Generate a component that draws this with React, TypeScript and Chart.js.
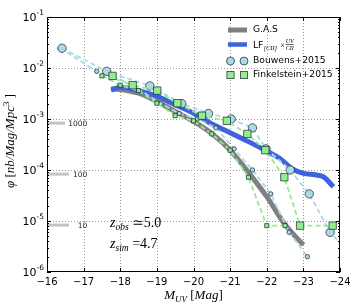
import React, { useEffect, useRef } from 'react';
import { Chart, registerables } from 'chart.js';

Chart.register(...registerables);

// ---------------- data ----------------
const xTicks = [-16, -17, -18, -19, -20, -21, -22, -23, -24];
const yTickExps = [-1, -2, -3, -4, -5, -6];

// G.A.S model (grey)
const gasM = [-17.75, -18.0, -18.5, -19.0, -19.5, -20.0, -20.5, -21.0, -21.5, -22.0, -22.5, -23.0];
const gasPhi = [0.0039, 0.0038, 0.0032, 0.0022, 0.0014, 0.0009, 0.00052, 0.000245, 0.00009, 0.00003, 0.0000085, 0.0000034];

// LF[CII] x UV/CII (blue)
const lfM = [-17.75, -18.0, -18.5, -19.0, -19.5, -20.0, -20.5, -21.0, -21.5, -22.0, -22.35, -22.7, -23.0, -23.35, -23.55, -23.82];
const lfPhi = [0.0037, 0.0042, 0.0036, 0.0028, 0.0019, 0.0013, 0.0008, 0.00054, 0.00036, 0.000235, 0.00017, 0.000105, 0.000086, 0.00008, 0.000073, 0.000047];

// Bouwens+2015 (small circles)
const bouwensM = [-16.36, -17.36, -18.36, -19.11, -19.61, -20.11, -20.61, -21.11, -21.61, -22.11, -22.61, -23.11];
const bouwensPhi = [0.0244, 0.0086, 0.00446, 0.002, 0.00128, 0.001, 0.00067, 0.00026, 0.0001, 0.000034, 0.000006, 0.000002];
// Bouwens+2015 (large circles)
const bouwensM2 = [-16.41, -17.63, -18.81, -19.68, -20.41, -21.03, -21.61, -21.98, -22.64, -23.16, -23.73, -24.35];
const bouwensPhi2 = [0.0244, 0.0086, 0.00446, 0.002, 0.00128, 0.001, 0.00067, 0.00026, 0.0001, 0.000034, 0.000006, 0.000002];

// Finkelstein+2015 (small squares)
const finkM = [-17.5, -18.0, -18.5, -19.0, -19.5, -20.0, -20.5, -21.0, -21.5, -22.0, -22.5];
const finkPhi = [0.007, 0.0046, 0.0036, 0.00204, 0.00116, 0.00092, 0.00051, 0.000245, 0.000072, 0.0000081, 0.0000081];
// Finkelstein+2015 (large squares)
const finkM2 = [-17.79, -18.34, -19.01, -19.56, -20.23, -20.91, -21.47, -21.96, -22.48, -22.91, -23.8];
const finkPhi2 = [0.007, 0.0046, 0.0036, 0.00204, 0.00116, 0.00092, 0.00051, 0.000245, 0.000072, 0.0000081, 0.0000081];

// number-count reference levels
const countLabels = ['1000', '100', '10'];
const countPhi = [0.00083, 0.000083, 0.0000083];
const countEndM = [-16.49, -16.6, -16.6];
const countLabelM = -17.1;

const annotLines = [
  { sub: 'obs', rel: ' \u2243', val: '5.0' },
  { sub: 'sim', rel: ' =', val: '4.7' },
];
const annotM = -17.72;
const annotPhi = [0.0000078, 0.0000029];

const legendLabels = ['G.A.S', 'LF', 'Bouwens+2015', 'Finkelstein+2015'];

// ---------------- styles ----------------
const GREY = '#808080';
const BLUE = '#3e63dd';
const LBLUE = '#add8e6';
const LGREEN = '#90ee90';
const EDGE = 'rgba(20,30,40,0.85)';
const SANS = '"DejaVu Sans", sans-serif';
const SERIF = '"Liberation Serif", "DejaVu Serif", serif';

const pts = (xs: number[], ys: number[]) => xs.map((x, i) => ({ x, y: ys[i] }));

type Part = { t: string; f: string; dy?: number };
function partsWidth(ctx: CanvasRenderingContext2D, parts: Part[]) {
  let w = 0;
  for (const p of parts) {
    ctx.font = p.f;
    w += ctx.measureText(p.t).width;
  }
  return w;
}
function drawParts(ctx: CanvasRenderingContext2D, parts: Part[], x: number, y: number) {
  let cx = x;
  for (const p of parts) {
    ctx.font = p.f;
    ctx.fillText(p.t, cx, y + (p.dy || 0));
    cx += ctx.measureText(p.t).width;
  }
  return cx;
}

const decor = {
  id: 'decor',
  beforeDatasetsDraw(chart: any) {
    const { ctx, chartArea: a, scales } = chart;
    const xs = scales.x;
    const ys = scales.y;
    ctx.save();
    ctx.strokeStyle = '#9a9a9a';
    ctx.lineWidth = 1;
    ctx.setLineDash([1, 2]);
    for (const t of xTicks) {
      const px = Math.round(xs.getPixelForValue(t)) + 0.5;
      if (px <= a.left + 1 || px >= a.right - 1) continue;
      ctx.beginPath();
      ctx.moveTo(px, a.top);
      ctx.lineTo(px, a.bottom);
      ctx.stroke();
    }
    for (const e of yTickExps) {
      const py = Math.round(ys.getPixelForValue(Math.pow(10, e))) + 0.5;
      if (py <= a.top + 1 || py >= a.bottom - 1) continue;
      ctx.beginPath();
      ctx.moveTo(a.left, py);
      ctx.lineTo(a.right, py);
      ctx.stroke();
    }
    ctx.restore();
  },
  afterDatasetsDraw(chart: any) {
    const { ctx, chartArea: a, scales } = chart;
    const xs = scales.x;
    const ys = scales.y;
    ctx.save();
    ctx.setLineDash([]);
    // frame
    ctx.strokeStyle = '#000';
    ctx.lineWidth = 1;
    ctx.strokeRect(a.left + 0.5, a.top + 0.5, a.right - a.left - 1, a.bottom - a.top - 1);
    // ticks
    ctx.beginPath();
    for (const t of xTicks) {
      const px = Math.round(xs.getPixelForValue(t)) + 0.5;
      ctx.moveTo(px, a.bottom);
      ctx.lineTo(px, a.bottom - 4);
      ctx.moveTo(px, a.top);
      ctx.lineTo(px, a.top + 4);
    }
    for (const e of yTickExps) {
      const py = Math.round(ys.getPixelForValue(Math.pow(10, e))) + 0.5;
      ctx.moveTo(a.left, py);
      ctx.lineTo(a.left + 4, py);
      ctx.moveTo(a.right, py);
      ctx.lineTo(a.right - 4, py);
      if (e > -6) continue;
    }
    for (let e = -6; e < -1; e++) {
      for (let k = 2; k <= 9; k++) {
        const py = Math.round(ys.getPixelForValue(k * Math.pow(10, e))) + 0.5;
        ctx.moveTo(a.left, py);
        ctx.lineTo(a.left + 2, py);
        ctx.moveTo(a.right, py);
        ctx.lineTo(a.right - 2, py);
      }
    }
    ctx.stroke();

    ctx.fillStyle = '#000';
    // x tick labels
    ctx.textAlign = 'center';
    ctx.textBaseline = 'middle';
    ctx.font = `10px ${SANS}`;
    for (const t of xTicks) {
      const px = xs.getPixelForValue(t);
      ctx.fillText('\u2212' + Math.abs(t), px, a.bottom + 10);
    }
    // y tick labels
    ctx.textAlign = 'left';
    ctx.textBaseline = 'alphabetic';
    for (const e of yTickExps) {
      const py = ys.getPixelForValue(Math.pow(10, e));
      const parts: Part[] = [
        { t: '10', f: `11px ${SANS}` },
        { t: String(e), f: `7.5px ${SANS}`, dy: -6 },
      ];
      const w = partsWidth(ctx, parts);
      drawParts(ctx, parts, a.left - 3 - w, py + 4);
    }

    // axis titles
    const xt: Part[] = [
      { t: 'M', f: `italic 13px ${SERIF}` },
      { t: 'UV', f: `italic 9px ${SERIF}`, dy: 3 },
      { t: ' [', f: `13px ${SERIF}` },
      { t: 'Mag', f: `italic 13px ${SERIF}` },
      { t: ']', f: `13px ${SERIF}` },
    ];
    const xw = partsWidth(ctx, xt);
    drawParts(ctx, xt, (a.left + a.right) / 2 - xw / 2, 299);

    const yt: Part[] = [
      { t: '\u03c6', f: `italic 13px ${SERIF}` },
      { t: ' [', f: `13px ${SERIF}` },
      { t: 'nb/Mag/Mpc', f: `italic 13px ${SERIF}` },
      { t: '3', f: `9px ${SERIF}`, dy: -5 },
      { t: ' ]', f: `13px ${SERIF}` },
    ];
    const yw = partsWidth(ctx, yt);
    ctx.save();
    ctx.translate(14, 141);
    ctx.rotate(-Math.PI / 2);
    drawParts(ctx, yt, -yw / 2, 0);
    ctx.restore();

    // count labels
    ctx.fillStyle = '#222';
    ctx.textAlign = 'right';
    ctx.textBaseline = 'middle';
    ctx.font = `7.5px ${SANS}`;
    countLabels.forEach((lab, i) => {
      ctx.fillText(lab, xs.getPixelForValue(countLabelM), ys.getPixelForValue(countPhi[i]) + 1);
    });

    // redshift annotations
    ctx.fillStyle = '#000';
    ctx.textAlign = 'left';
    ctx.textBaseline = 'alphabetic';
    annotLines.forEach((ln, i) => {
      const parts: Part[] = [
        { t: 'z', f: `italic 14px ${SERIF}` },
        { t: ln.sub, f: `italic 9.5px ${SERIF}`, dy: 3 },
        { t: ln.rel, f: `14px ${SERIF}` },
        { t: ln.val, f: `14px ${SERIF}` },
      ];
      drawParts(ctx, parts, xs.getPixelForValue(annotM), ys.getPixelForValue(annotPhi[i]));
    });

    // legend
    const lx0 = 228, lx1 = 247, tx = 253;
    const rows = [30, 44.5, 61, 75];
    ctx.lineCap = 'butt';
    ctx.strokeStyle = GREY;
    ctx.lineWidth = 5;
    ctx.beginPath();
    ctx.moveTo(lx0, rows[0]);
    ctx.lineTo(lx1, rows[0]);
    ctx.stroke();
    ctx.strokeStyle = BLUE;
    ctx.lineWidth = 4.5;
    ctx.beginPath();
    ctx.moveTo(lx0, rows[1]);
    ctx.lineTo(lx1, rows[1]);
    ctx.stroke();
    ctx.lineWidth = 0.8;
    ctx.strokeStyle = EDGE;
    for (const mx of [230.5, 244]) {
      ctx.fillStyle = LBLUE;
      ctx.beginPath();
      ctx.arc(mx, rows[2], 4, 0, Math.PI * 2);
      ctx.fill();
      ctx.stroke();
      ctx.fillStyle = LGREEN;
      ctx.fillRect(mx - 3.6, rows[3] - 3.6, 7.2, 7.2);
      ctx.strokeRect(mx - 3.6, rows[3] - 3.6, 7.2, 7.2);
    }
    ctx.fillStyle = '#000';
    ctx.textBaseline = 'middle';
    ctx.font = `9.2px ${SANS}`;
    ctx.fillText(legendLabels[0], tx, rows[0]);
    ctx.fillText(legendLabels[2], tx, rows[2]);
    ctx.fillText(legendLabels[3], tx, rows[3]);
    // LF_[CII] x UV/CII
    ctx.textBaseline = 'alphabetic';
    let cx = drawParts(ctx, [{ t: legendLabels[1], f: `9.2px ${SANS}` }], tx, rows[1] + 3.3);
    cx = drawParts(ctx, [{ t: '[CII]', f: `italic 6.5px ${SERIF}` }], cx, rows[1] + 5.5);
    cx = drawParts(ctx, [{ t: ' \u00d7', f: `8px ${SERIF}` }], cx + 1, rows[1] + 3);
    ctx.font = `italic 6px ${SERIF}`;
    const fw = Math.max(ctx.measureText('UV').width, ctx.measureText('CII').width);
    ctx.textAlign = 'center';
    ctx.fillText('UV', cx + 1 + fw / 2, rows[1] - 1.5);
    ctx.fillText('CII', cx + 1 + fw / 2, rows[1] + 5.5);
    ctx.fillRect(cx + 1, rows[1] - 0.5, fw, 0.6);
    ctx.restore();
  },
};

export default function App() {
  const ref = useRef<HTMLCanvasElement | null>(null);
  useEffect(() => {
    if (!ref.current) return;
    const markerDs = (label: string, xs: number[], ys: number[], color: string, style: string, r: number) => ({
      label,
      data: pts(xs, ys),
      borderColor: color,
      borderWidth: 1.8,
      borderDash: [5, 3],
      pointStyle: style,
      pointRadius: r,
      pointBackgroundColor: color,
      pointBorderColor: EDGE,
      pointBorderWidth: 0.8,
      tension: 0,
      fill: false,
    });
    const chart = new Chart(ref.current, {
      type: 'line',
      data: {
        datasets: [
          markerDs('Finkelstein+2015 b', finkM2, finkPhi2, LGREEN, 'rect', 5.2),
          markerDs('Finkelstein+2015', finkM, finkPhi, LGREEN, 'rect', 2.9),
          markerDs('Bouwens+2015 b', bouwensM2, bouwensPhi2, LBLUE, 'circle', 4.2),
          markerDs('Bouwens+2015', bouwensM, bouwensPhi, LBLUE, 'circle', 2.2),
          {
            label: 'LF',
            data: pts(lfM, lfPhi),
            borderColor: BLUE,
            borderWidth: 5,
            pointRadius: 0,
            tension: 0.3,
            cubicInterpolationMode: 'monotone',
            fill: false,
          },
          {
            label: 'G.A.S',
            data: pts(gasM, gasPhi),
            borderColor: GREY,
            borderWidth: 5,
            pointRadius: 0,
            cubicInterpolationMode: 'monotone',
            fill: false,
          },
          ...countLabels.map((lab, i) => ({
            label: 'N=' + lab,
            data: [
              { x: -16, y: countPhi[i] },
              { x: countEndM[i], y: countPhi[i] },
            ],
            borderColor: '#c4c4c4',
            borderWidth: 3,
            pointRadius: 0,
            fill: false,
          })),
        ] as any,
      },
      options: {
        responsive: false,
        animation: false,
        devicePixelRatio: 1,
        layout: { padding: { left: 47, right: 18, top: 17, bottom: 31 } },
        plugins: { legend: { display: false }, tooltip: { enabled: false } },
        scales: {
          x: { type: 'linear', min: -24, max: -16, reverse: true, display: false },
          y: { type: 'logarithmic', min: 1e-6, max: 1e-1, display: false },
        },
      } as any,
      plugins: [decor],
    });
    return () => chart.destroy();
  }, []);
  return (
    <div style={{ position: 'fixed', left: 0, top: 0, width: 358, height: 303, background: '#fff' }}>
      <canvas ref={ref} width={358} height={303} />
    </div>
  );
}
